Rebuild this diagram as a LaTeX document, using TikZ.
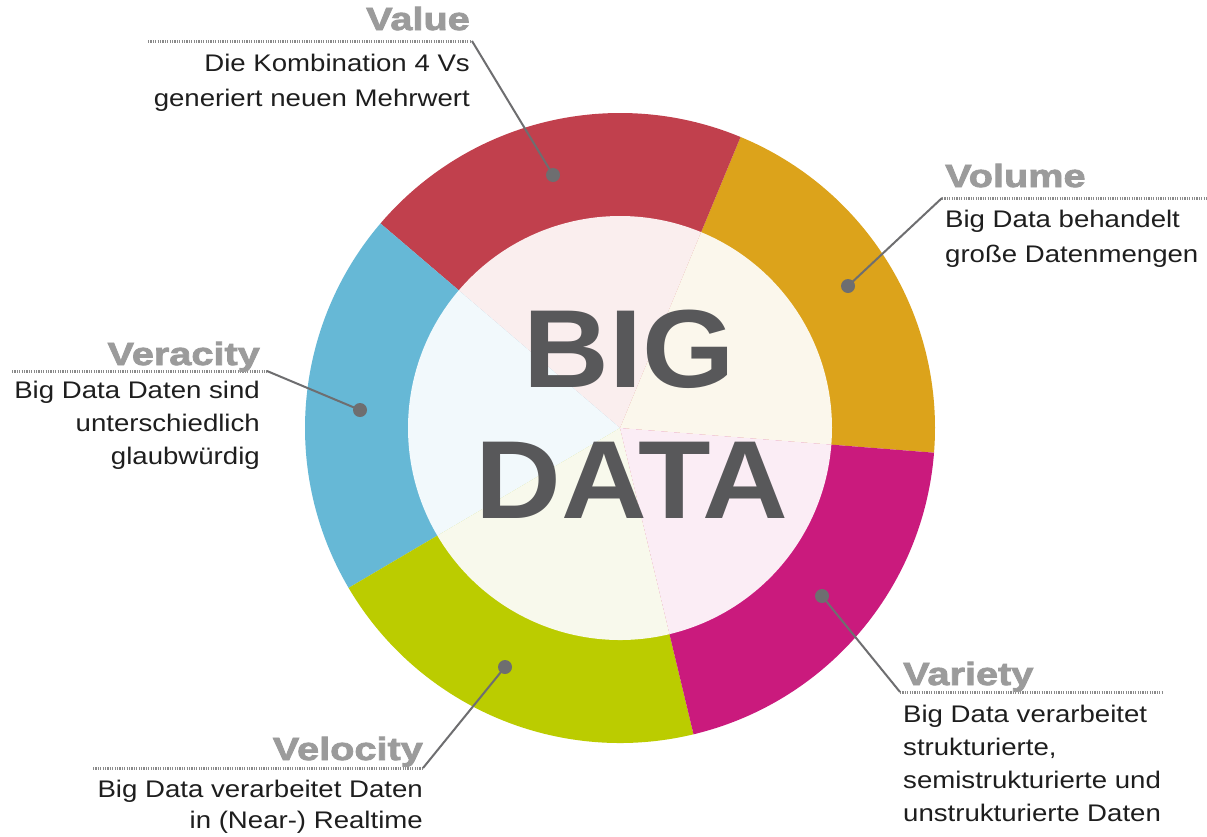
\documentclass[tikz,border=0pt]{standalone}
\usepackage{fontspec}
\setmainfont{Liberation Sans}
\newfontfamily\descfont[FakeStretch=1.15]{Liberation Sans}
\newfontfamily\titlefont[FakeStretch=1.24,BoldFeatures={FakeBold=2.5}]{Liberation Sans}
\newfontfamily\bigfont[FakeStretch=1.07]{Liberation Sans}
\definecolor{cValue}{HTML}{C1404D}
\definecolor{cVolume}{HTML}{DCA31B}
\definecolor{cVariety}{HTML}{CA1A7D}
\definecolor{cVelocity}{HTML}{BBCC00}
\definecolor{cVeracity}{HTML}{66B8D6}
\definecolor{pValue}{HTML}{FAEEEE}
\definecolor{pVolume}{HTML}{FBF7EC}
\definecolor{pVariety}{HTML}{FBEDF5}
\definecolor{pVelocity}{HTML}{F8F9EC}
\definecolor{pVeracity}{HTML}{F2F9FC}
\definecolor{bigtext}{HTML}{58585A}
\definecolor{titlegray}{HTML}{9B9B9B}
\definecolor{desctext}{HTML}{1E1E1E}
\definecolor{connline}{HTML}{6E6E70}
\definecolor{dotgray}{HTML}{8A8A8A}
\begin{document}
\begin{tikzpicture}[x=1pt,y=-1pt,
  bigtxt/.style={font=\bigfont\bfseries\fontsize{111}{111}\selectfont, text=bigtext, inner sep=0pt},
  vtitle/.style={font=\titlefont\bfseries\fontsize{32}{32}\selectfont, text=titlegray, inner sep=0pt},
  vdesc/.style={font=\descfont\fontsize{24}{34}\selectfont, text=desctext, inner sep=0pt},
  markdot/.style={circle, fill=connline, inner sep=0pt, minimum size=14pt},
  conn/.style={draw=connline, line width=2pt},
  dotrule/.style={draw=dotgray, line width=3pt, dash pattern=on 1.2pt off 1.2pt}
]
\useasboundingbox (0,0) rectangle (1207,836);
\fill[white] (0,0) rectangle (1207,836);

% ring and inner pie
\begin{scope}[shift={(620,428)}, x=1pt, y=1pt]
  \fill[cVolume]   (0,0) -- (-4.5:315) arc[start angle=-4.5, end angle=67.5, radius=315] -- cycle;
  \fill[cValue]    (0,0) -- (67.5:315) arc[start angle=67.5, end angle=139.5, radius=315] -- cycle;
  \fill[cVeracity] (0,0) -- (139.5:315) arc[start angle=139.5, end angle=210.5, radius=315] -- cycle;
  \fill[cVelocity] (0,0) -- (210.5:315) arc[start angle=210.5, end angle=283.5, radius=315] -- cycle;
  \fill[cVariety]  (0,0) -- (283.5:315) arc[start angle=283.5, end angle=355.5, radius=315] -- cycle;
  \fill[pVolume]   (0,0) -- (-4.5:212) arc[start angle=-4.5, end angle=67.5, radius=212] -- cycle;
  \fill[pValue]    (0,0) -- (67.5:212) arc[start angle=67.5, end angle=139.5, radius=212] -- cycle;
  \fill[pVeracity] (0,0) -- (139.5:212) arc[start angle=139.5, end angle=210.5, radius=212] -- cycle;
  \fill[pVelocity] (0,0) -- (210.5:212) arc[start angle=210.5, end angle=283.5, radius=212] -- cycle;
  \fill[pVariety]  (0,0) -- (283.5:212) arc[start angle=283.5, end angle=355.5, radius=212] -- cycle;
\end{scope}

\node[bigtxt, anchor=base] (big) at (629,387) {BIG};
\node[bigtxt, anchor=base] (data) at (632,518) {DATA};

% Value
\node[markdot] (valdot) at (553,175) {};
\coordinate (valc) at (472,41);
\coordinate (vall) at (148,41);
\draw[dotrule] (vall) -- (valc);
\draw[conn] (valc) -- (valdot.center);
\node[vtitle, anchor=base east] (valt) at (470,30) {Value};
\node[vdesc, anchor=base east, align=right, font=\descfont\fontsize{24}{35}\selectfont] (vald) at (470,106) {Die Kombination 4 Vs\\generiert neuen Mehrwert};

% Volume
\node[markdot] (voldot) at (848,286) {};
\coordinate (volc) at (942,198);
\coordinate (voll) at (1207,198);
\draw[dotrule] (volc) -- (voll);
\draw[conn] (volc) -- (voldot.center);
\node[vtitle, anchor=base west] (volt) at (945,187) {Volume};
\node[vdesc, anchor=base west, align=left, font=\descfont\fontsize{24}{35}\selectfont] (vold) at (945,262) {Big Data behandelt\\große Datenmengen};

% Veracity
\node[markdot] (verdot) at (360,410) {};
\coordinate (verc) at (267,371);
\coordinate (verl) at (12,371);
\draw[dotrule] (verl) -- (verc);
\draw[conn] (verc) -- (verdot.center);
\node[vtitle, anchor=base east] (vert) at (260,365) {Veracity};
\node[vdesc, anchor=base east, align=right, font=\descfont\fontsize{24}{33}\selectfont] (verd) at (260,464) {Big Data Daten sind\\unterschiedlich\\glaubwürdig};

% Variety
\node[markdot] (vardot) at (822,596) {};
\coordinate (varc) at (900,692);
\coordinate (varl) at (1163,692);
\draw[dotrule] (varc) -- (varl);
\draw[conn] (varc) -- (vardot.center);
\node[vtitle, anchor=base west] (vart) at (903,685) {Variety};
\node[vdesc, anchor=base west, align=left, font=\descfont\fontsize{24}{33}\selectfont] (vard) at (903,821) {Big Data verarbeitet\\strukturierte,\\semistrukturierte und\\unstrukturierte Daten};

% Velocity
\node[markdot] (veldot) at (505,667) {};
\coordinate (velc) at (423,768);
\coordinate (vell) at (93,768);
\draw[dotrule] (vell) -- (velc);
\draw[conn] (velc) -- (veldot.center);
\node[vtitle, anchor=base east] (velt) at (423,760) {Velocity};
\node[vdesc, anchor=base east, align=right, font=\descfont\fontsize{24}{31}\selectfont] (veld) at (423,828) {Big Data verarbeitet Daten\\in (Near-) Realtime};
\end{tikzpicture}
\end{document}
